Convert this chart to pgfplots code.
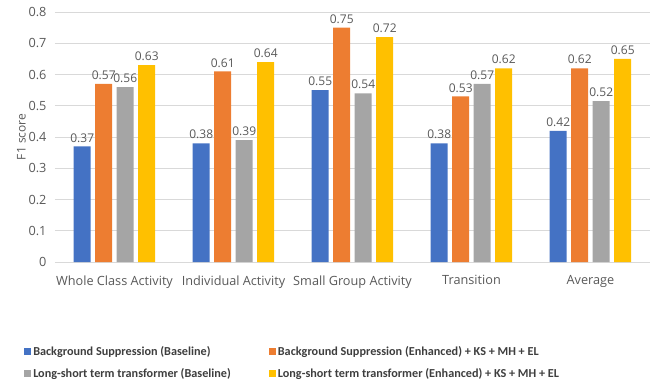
\documentclass[border=0pt]{standalone}
\usepackage{pgfplots}
\pgfplotsset{compat=1.18}
\usepackage{fontspec}
\setmainfont{Open Sans}
\newfontfamily\legfont{Carlito}
\definecolor{cBlue}{HTML}{4472C4}
\definecolor{cOrange}{HTML}{ED7D31}
\definecolor{cGray}{HTML}{A5A5A5}
\definecolor{cGold}{HTML}{FFC000}
\definecolor{txt}{HTML}{595959}
\definecolor{gridc}{HTML}{D9D9D9}
\begin{document}
\begin{tikzpicture}
\path (-55pt,-119pt) rectangle (599pt,262pt);
\begin{axis}[
  at={(0,0)}, anchor=south west,
  scale only axis, width=595pt, height=250pt,
  ybar=4.5pt, bar width=17pt,
  xmin=-0.5, xmax=4.5, ymin=0, ymax=0.8,
  xtick={0,1,2,3,4},
  xticklabels={Whole Class Activity, Individual Activity, Small Group Activity, Transition, Average},
  ytick={0,0.1,0.2,0.3,0.4,0.5,0.6,0.7,0.8},
  yticklabel style={/pgf/number format/fixed, /pgf/number format/precision=1, /pgf/number format/assume math mode=true},
  major tick length=0pt,
  axis line style={draw=none},
  xmajorgrids=false, ymajorgrids=true,
  major grid style={draw=gridc, line width=0.8pt},
  tick label style={font=\fontsize{12.7}{15}\selectfont, text=txt},
  xticklabel shift=10pt,
  yticklabel shift=5pt,
  ylabel={F1 score},
  ylabel style={font=\fontsize{12}{14}\selectfont, text=txt},
  ylabel shift=-4pt,
  nodes near coords,
  point meta=explicit symbolic,
  every node near coord/.append style={font=\fontsize{12}{14}\selectfont, text=txt, inner sep=2pt, yshift=2pt},
  legend columns=2,
  legend cell align=left,
  legend style={draw=none, fill=none, at={(-0.052,-0.33)}, anchor=north west,
    font=\fontsize{12.2}{14}\selectfont\legfont\bfseries, text=txt!70!black,
    /tikz/every even column/.append style={column sep=36pt},
    row sep=7pt, inner sep=0pt},
  legend image code/.code={\fill[#1] (0pt,-3.5pt) rectangle (7pt,3.5pt);},
]
\addplot[fill=cBlue, draw=none] coordinates {(0,0.37)[0.37] (1,0.38)[0.38] (2,0.55)[0.55] (3,0.38)[0.38] (4,0.42)[0.42]};
\addplot[fill=cOrange, draw=none] coordinates {(0,0.57)[0.57] (1,0.61)[0.61] (2,0.75)[0.75] (3,0.53)[0.53] (4,0.62)[0.62]};
\addplot[fill=cGray, draw=none] coordinates {(0,0.56)[0.56] (1,0.39)[0.39] (2,0.54)[0.54] (3,0.57)[0.57] (4,0.515)[0.52]};
\addplot[fill=cGold, draw=none] coordinates {(0,0.63)[0.63] (1,0.64)[0.64] (2,0.72)[0.72] (3,0.62)[0.62] (4,0.65)[0.65]};
\legend{Background Suppression (Baseline), Background Suppression (Enhanced) + KS + MH + EL, Long-short term transformer (Baseline), Long-short term transformer (Enhanced) + KS + MH + EL}
\end{axis}
\end{tikzpicture}
\end{document}
